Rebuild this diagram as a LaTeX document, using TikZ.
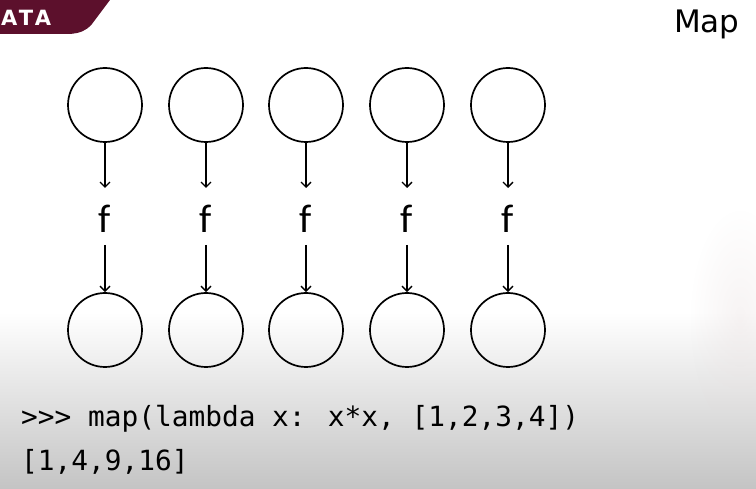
\documentclass[tikz,border=0pt]{standalone}
\usepackage{fontspec}
\setmainfont{Carlito}
\newfontfamily\codefont{DejaVu Sans Mono}
\newfontfamily\titlefont{DejaVu Sans}
\usetikzlibrary{arrows.meta,fadings}
\definecolor{maroon}{RGB}{92,16,44}
\definecolor{slidegrey}{RGB}{196,196,196}
\definecolor{warmhaze}{RGB}{232,222,222}
\tikzset{
  item/.style={circle,draw=black,line width=1.7pt,minimum size=74pt,inner sep=0pt},
  fname/.style={font=\fontsize{40}{40}\selectfont,inner sep=0pt,anchor=base},
  maparrow/.style={line width=1.6pt,-{Straight Barb[length=5pt,width=10pt,line width=1.4pt]}},
  codeline/.style={font=\codefont\fontsize{27.8}{30}\selectfont,anchor=base west,inner sep=0pt},
}
\tikzfading[name=fade sides,inner color=transparent!0,outer color=transparent!100]
\begin{document}
\begin{tikzpicture}[x=1pt,y=-1pt]
  % slide background: white top, grey floor gradient
  \useasboundingbox (0,0) rectangle (756,489);
  \fill[white] (0,0) rectangle (756,489);
  \shade[top color=white,bottom color=slidegrey] (0,312) rectangle (756,489);
  \fill[warmhaze,opacity=0.35,path fading=fade sides] (690,210) rectangle (790,430);
  % header tab
  \fill[maroon] (0,0) -- (110,0) -- (92,24) .. controls (86,31) and (80,33) .. (70,34) -- (0,34) -- cycle;
  \node[text=white,font=\titlefont\bfseries\fontsize{21}{21}\selectfont,anchor=base west,inner sep=0pt] (tab) at (1,26) {A\kern1.5pt T\kern1.5pt A};
  % title
  \node[font=\titlefont\fontsize{31}{31}\selectfont,anchor=base west,inner sep=0pt] (title) at (674,33) {Map};
  % inputs, function applications, outputs
  \foreach \i/\x in {1/105,2/206,3/306,4/407,5/508}{
    \node[item] (in\i) at (\x,105) {};
    \node[fname] (f\i) at (\x,233) {f};
    \node[item] (out\i) at (\x,330) {};
    \coordinate (fa\i) at (\x,188);
    \coordinate (fb\i) at (\x,245);
    \draw[maparrow] (in\i.south) -- (fa\i);
    \draw[maparrow] (fb\i) -- (out\i.north);
  }
  % example session
  \node[codeline] (call) at (21,427) {>{}>{}> map(lambda x: x*x, [1,2,3,4])};
  \node[codeline] (result) at (21,470) {[1,4,9,16]};
\end{tikzpicture}
\end{document}
